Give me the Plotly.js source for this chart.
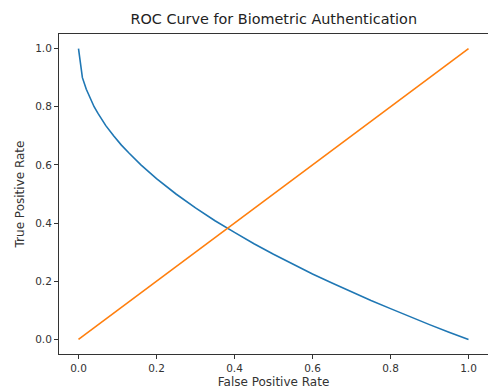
<!DOCTYPE html>
<html>
<head>
<meta charset="utf-8">
<script src="https://cdn.plot.ly/plotly-3.0.1.min.js"></script>
<style>html,body{margin:0;padding:0;background:#fff;}#chart{width:488px;height:389px;}</style>
</head>
<body>
<div id="chart"></div>
<script>
var fprCurve = [0, 0.01, 0.02, 0.03, 0.04, 0.05, 0.07, 0.09, 0.11, 0.13, 0.16, 0.2, 0.25, 0.3, 0.35, 0.4, 0.45, 0.5, 0.55, 0.6, 0.65, 0.7, 0.75, 0.8, 0.85, 0.9, 0.95, 1.0];
var tprCurve = [1.0, 0.90, 0.86, 0.83, 0.80, 0.777, 0.735, 0.70, 0.668, 0.64, 0.60, 0.553, 0.50, 0.452, 0.408, 0.368, 0.329, 0.293, 0.258, 0.225, 0.194, 0.163, 0.134, 0.106, 0.078, 0.051, 0.025, 0.0];
var fprDiag = [0, 1];
var tprDiag = [0, 1];
var tickVals = [0, 0.2, 0.4, 0.6, 0.8, 1.0];
var tickText = ["0.0", "0.2", "0.4", "0.6", "0.8", "1.0"];

var traces = [
  {x: fprCurve, y: tprCurve, mode: 'lines', type: 'scatter', line: {color: '#1f77b4', width: 1.6}, showlegend: false},
  {x: fprDiag, y: tprDiag, mode: 'lines', type: 'scatter', line: {color: '#ff7f0e', width: 1.6}, showlegend: false}
];

var axisCommon = {
  showgrid: false, zeroline: false, showline: true, linecolor: '#333', linewidth: 1,
  mirror: true, ticks: 'outside', ticklen: 4, tickwidth: 1, tickcolor: '#333',
  tickvals: tickVals, ticktext: tickText,
  tickfont: {family: 'DejaVu Sans', size: 10.5, color: '#333'}
};

var layout = {
  width: 488, height: 389,
  margin: {l: 59, r: 0, t: 34, b: 35},
  paper_bgcolor: '#fff', plot_bgcolor: '#fff',
  title: {text: 'ROC Curve for Biometric Authentication', font: {family: 'DejaVu Sans', size: 14.4, color: '#222'}, x: 0.561, xanchor: 'center', y: 0.951, yanchor: 'middle'},
  xaxis: Object.assign({}, axisCommon, {range: [-0.05, 1.05], title: {text: 'False Positive Rate', font: {family: 'DejaVu Sans', size: 12, color: '#333'}, standoff: 5}}),
  yaxis: Object.assign({}, axisCommon, {range: [-0.05, 1.05], title: {text: 'True Positive Rate', font: {family: 'DejaVu Sans', size: 12, color: '#333'}, standoff: 7}})
};

Plotly.newPlot('chart', traces, layout, {displayModeBar: false, staticPlot: true});
</script>
</body>
</html>
